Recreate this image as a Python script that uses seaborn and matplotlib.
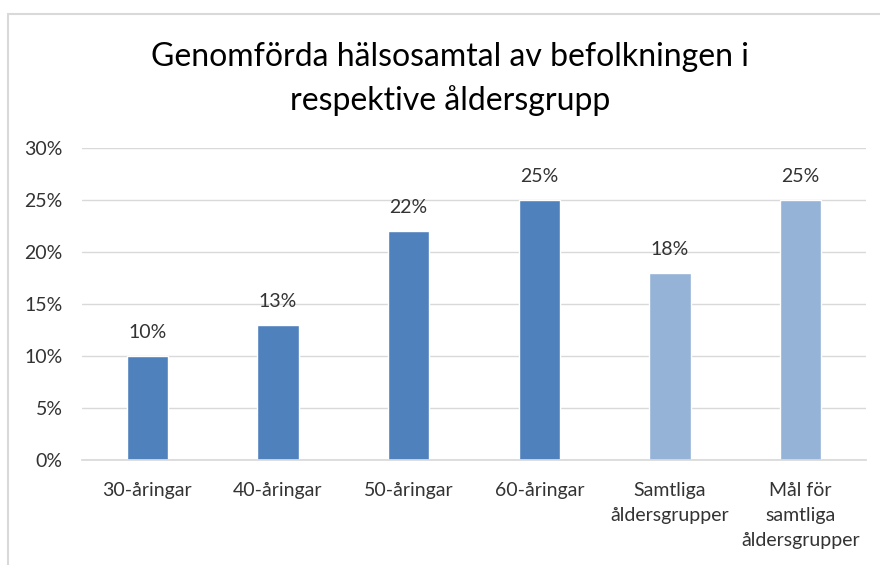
import matplotlib
matplotlib.use("Agg")
import matplotlib.pyplot as plt
from matplotlib.patches import Rectangle
from matplotlib.ticker import PercentFormatter
import seaborn as sns
import pandas as pd

categories = ["30-åringar", "40-åringar", "50-åringar", "60-åringar",
              "Samtliga\nåldersgrupper", "Mål för\nsamtliga\nåldersgrupper"]
values = [10, 13, 22, 25, 18, 25]
bar_colors = ["#4F81BD", "#4F81BD", "#4F81BD", "#4F81BD", "#95B3D7", "#95B3D7"]
y_ticks = [0, 5, 10, 15, 20, 25, 30]
title = "Genomförda hälsosamtal av befolkningen i\nrespektive åldersgrupp"

sns.set_theme(style="white")
plt.rcParams["font.family"] = ["Lato", "DejaVu Sans"]

df = pd.DataFrame({"kategori": categories, "andel": values})

fig = plt.figure(figsize=(8.8, 5.65), dpi=100)
fig.patch.set_facecolor("white")
fig.patches.append(Rectangle((8 / 880, -0.05), 1.0, 1 - 14 / 565 + 0.05,
                             transform=fig.transFigure, fill=False,
                             edgecolor="#d9d9d9", linewidth=1.5))

ax = fig.add_axes([82 / 880, 105 / 565, 784 / 880, 312 / 565])
sns.barplot(data=df, x="kategori", y="andel", hue="kategori",
            palette=bar_colors, width=0.315, legend=False, ax=ax,
            saturation=1)

ax.set_ylim(0, 30)
ax.set_yticks(y_ticks)
ax.yaxis.set_major_formatter(PercentFormatter(decimals=0))
ax.grid(axis="y", color="#d9d9d9", linewidth=1)
ax.set_axisbelow(True)
for s in ["left", "right", "top"]:
    ax.spines[s].set_visible(False)
ax.spines["bottom"].set_color("#d9d9d9")
ax.tick_params(axis="both", length=0, labelsize=14, colors="#333333")
ax.tick_params(axis="x", pad=16)
ax.tick_params(axis="y", pad=14)
ax.set_xlabel("")
ax.set_ylabel("")
for lab in ax.get_xticklabels():
    lab.set_linespacing(1.55)

for cont in ax.containers:
    ax.bar_label(cont, labels=[f"{v:.0f}%" for v in cont.datavalues],
                 padding=11, fontsize=14, color="#333333")

fig.text(450 / 880, 1 - 79 / 565, title, ha="center", va="center",
         fontsize=23, color="black", linespacing=1.5)

fig.savefig("out.png", dpi=100)
